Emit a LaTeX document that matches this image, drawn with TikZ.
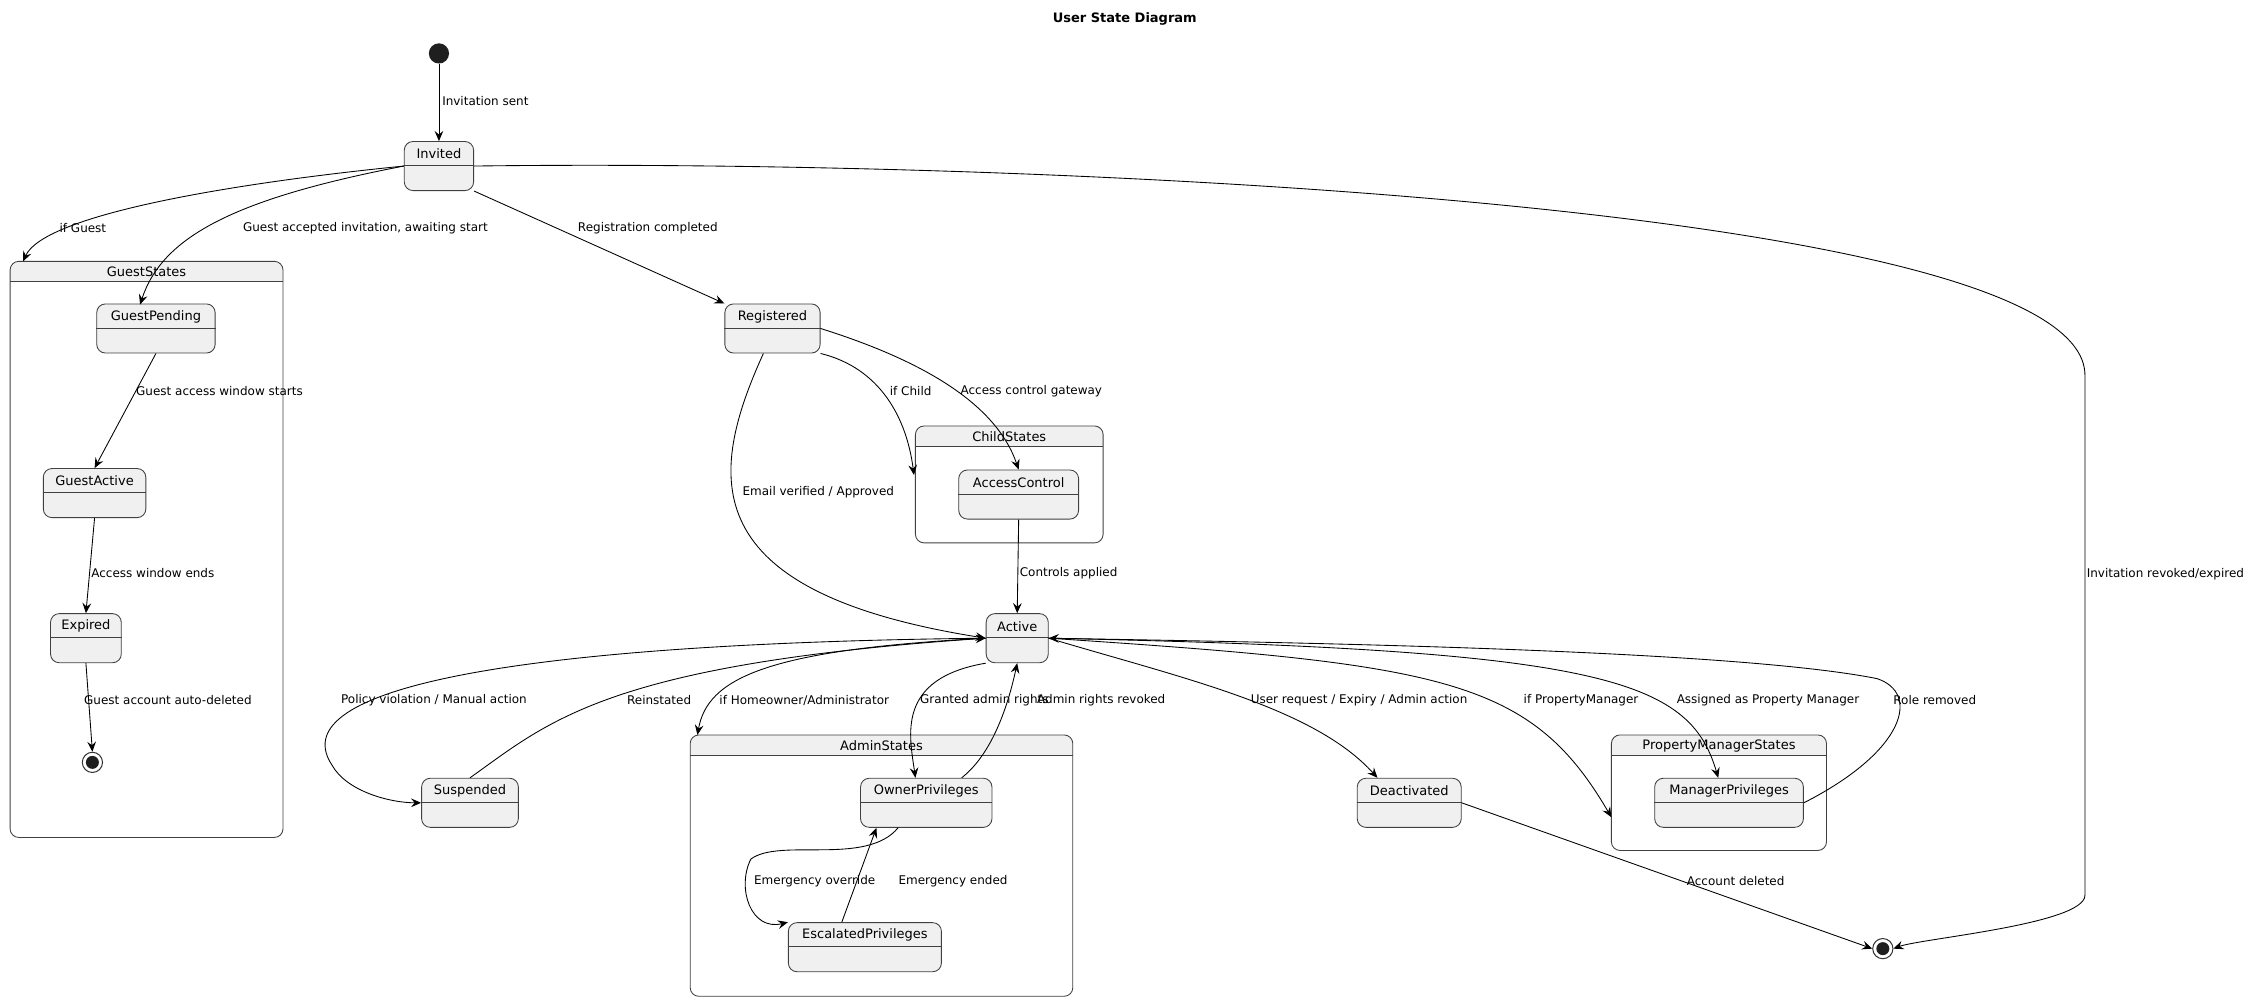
\documentclass[tikz,border=0pt]{standalone}
\usepackage{fontspec}
\setmainfont{DejaVu Sans}
\usetikzlibrary{arrows.meta,calc,fit}
\begin{document}
\begin{tikzpicture}[x=1pt,y=-1pt,
  st/.style={draw=black!75,fill=black!6,rounded corners=6pt,minimum height=34pt,inner sep=0pt,line width=0.6pt},
  lbl/.style={anchor=west,font=\fontsize{8.3}{9}\selectfont,inner sep=1pt},
  e/.style={line width=0.6pt,-{Stealth[length=7pt,width=6pt,inset=2.5pt]}},
  fs/.style={draw=black!80,line width=0.7pt,circle,minimum size=14pt,inner sep=0pt}]
\useasboundingbox (0,0) rectangle (1568,693);
\newcommand\stt[5]{%
  \node[st,minimum width=#4pt] (#1) at (#2,#3) {};
  \node[font=\fontsize{9}{9}\selectfont] at ($(#1.north)+(0,9)$) {#5};
  \draw[black!75,line width=0.6pt] ($(#1.north west)+(0,17)$) -- ($(#1.north east)+(0,17)$);}
\newcommand\cmp[6]{%
  \fill[black!6] (#2,#3+14) {[rounded corners=6pt] -- (#2,#3) -- (#4,#3)} -- (#4,#3+14) -- cycle;
  \draw[black!75,line width=0.6pt] (#2,#3+14) -- (#4,#3+14);
  \node[fit={(#2,#3)(#4,#5)},inner sep=0pt,draw=black!75,rounded corners=6pt,line width=0.6pt] (#1) {};
  \node[font=\fontsize{9}{9}\selectfont] at ({(#2+#4)/2},#3+7.5) {#6};}

\node[font=\bfseries\fontsize{9}{9}\selectfont] (title) at (779,13) {User State Diagram};

\cmp{GS}{7}{181}{196}{580}{GuestStates}
\cmp{CS}{634}{295}{764}{376}{ChildStates}
\cmp{AS}{478}{509}{743}{690}{AdminStates}
\cmp{PS}{1116}{509}{1265}{589}{PropertyManagerStates}

\node[circle,fill=black!88,minimum size=14pt,inner sep=0pt] (start) at (304,37) {};
\stt{inv}{304}{115}{48}{Invited}
\stt{gp}{108}{227.5}{82}{GuestPending}
\stt{ga}{65.5}{341.5}{71}{GuestActive}
\stt{ex}{59.5}{442}{49}{Expired}
\stt{reg}{535}{227.5}{66}{Registered}
\stt{ac}{705.5}{342.5}{83}{AccessControl}
\stt{act}{704.5}{442}{43}{Active}
\stt{sus}{325.5}{556}{67}{Suspended}
\stt{own}{641.5}{556}{91}{OwnerPrivileges}
\stt{esc}{599}{656}{106}{EscalatedPrivileges}
\stt{dea}{976}{556}{72}{Deactivated}
\stt{mgr}{1197.5}{556}{103}{ManagerPrivileges}
\node[fs] (f1) at (64,528) {};
\fill[black!88] (64,528) circle (4.5pt);
\node[fs] (f2) at (1304,657) {};
\fill[black!88] (1304,657) circle (4.5pt);

\draw[e] (start) -- (inv) node[lbl,at={(305,70)}] {Invitation sent};
\draw[e] (inv.west) .. controls (150,128) and (30,150) .. (16,181) node[lbl,at={(40,158)}] {if Guest};
\draw[e] (inv.west) .. controls (160,138) and (112,165) .. (97,211) node[lbl,at={(167,158)}] {Guest accepted invitation, awaiting start};
\draw[e] (inv.south east) -- (reg.north west) node[lbl,at={(399,158)}] {Registration completed};
\draw[e] (inv.east) .. controls (700,110) and (1444,140) .. (1444,260) -- (1444,620) .. controls (1444,640) and (1330,650) .. (f2.east) node[lbl,at={(1444,398)}] {Invitation revoked/expired};
\draw[e] (gp.south) -- (ga.north) node[lbl,at={(93,271)}] {Guest access window starts};
\draw[e] (ga.south) -- (ex.north) node[lbl,at={(62,397)}] {Access window ends};
\draw[e] (ex.south) -- (f1.north) node[lbl,at={(57,485)}] {Guest account auto-deleted};
\draw[e] (reg.250) .. controls (490,330) and (480,410) .. (act.west) node[lbl,at={(513,341)}] {Email verified / Approved};
\draw[e] (reg.south east) .. controls (610,255) and (628,290) .. (633,329) node[lbl,at={(615,271)}] {if Child};
\draw[e] (reg.east) .. controls (640,250) and (690,280) .. (ac.north) node[lbl,at={(664,271)}] {Access control gateway};
\draw[e] (ac.south) -- (act.north) node[lbl,at={(705,397)}] {Controls applied};
\draw[e] (act.west) .. controls (400,445) and (190,470) .. (230,530) .. controls (240,548) and (270,556) .. (sus.west) node[lbl,at={(235,485)}] {Policy violation / Manual action};
\draw[e] (sus.north) .. controls (380,500) and (420,460) .. (act.west) node[lbl,at={(433,485)}] {Reinstated};
\draw[e] (act.west) .. controls (530,450) and (490,470) .. (483,509) node[lbl,at={(497,485)}] {if Homeowner/Administrator};
\draw[e] (act.south west) .. controls (620,470) and (630,510) .. (own.north -| 634,0) node[lbl,at={(636,485)}] {Granted admin rights};
\draw[e] (own.north -| 666,0) .. controls (690,520) and (700,480) .. (act.south) node[lbl,at={(717,485)}] {Admin rights revoked};
\draw[e] (act.east) .. controls (820,470) and (910,490) .. (dea.north -| 954,0) node[lbl,at={(865,485)}] {User request / Expiry / Admin action};
\draw[e] (act.east) .. controls (1000,460) and (1060,470) .. (1116,566) node[lbl,at={(1054,485)}] {if PropertyManager};
\draw[e] (act.east) .. controls (1110,450) and (1170,470) .. (mgr.north -| 1190,0) node[lbl,at={(1160,485)}] {Assigned as Property Manager};
\draw[e] (mgr.east) .. controls (1320,520) and (1330,480) .. (1300,470) .. controls (1200,450) and (900,445) .. (act.east) node[lbl,at={(1310,485)}] {Role removed};
\draw[e] (own.south -| 622,0) .. controls (600,600) and (540,580) .. (520,595) .. controls (510,615) and (520,645) .. (esc.north west) node[lbl,at={(521,610)}] {Emergency override};
\draw[e] (esc.north -| 583,0) -- (own.south -| 607,0) node[lbl,at={(621,610)}] {Emergency ended};
\draw[e] (dea.east) -- (f2.west) node[lbl,at={(1167,610)}] {Account deleted};
\end{tikzpicture}
\end{document}
